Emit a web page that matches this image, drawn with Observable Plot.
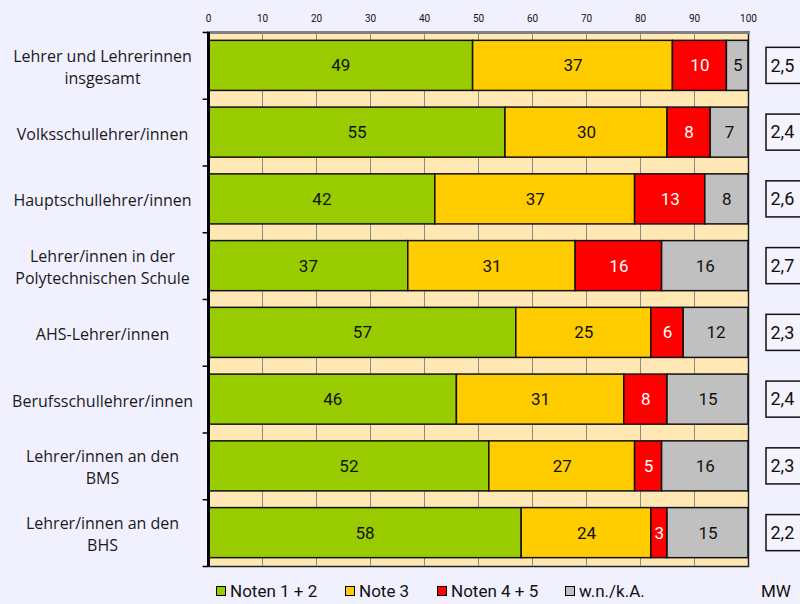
<!DOCTYPE html>
<html><head><meta charset="utf-8">
<script src="https://cdn.jsdelivr.net/npm/d3@7"></script>
<script src="https://cdn.jsdelivr.net/npm/@observablehq/plot@0.6"></script>
<style>
html,body{margin:0;padding:0;background:#F0F0FF;}
#wrap{position:relative;width:800px;height:604px;overflow:hidden;font-family:Roboto,sans-serif;color:#111;}
#chart{position:absolute;left:0;top:0;}
.leg{position:absolute;top:580px;height:22px;font-size:17px;line-height:22px;display:flex;align-items:center;white-space:nowrap;font-family:Roboto,sans-serif;}
.sw{width:8px;height:8px;border:1.5px solid #000;margin-right:4px;display:inline-block;}
</style></head><body>
<div id="wrap"><div id="chart"></div><div id="legend"></div></div>
<script>
const categories = [
  "Lehrer und Lehrerinnen\ninsgesamt",
  "Volksschullehrer/innen",
  "Hauptschullehrer/innen",
  "Lehrer/innen in der\nPolytechnischen Schule",
  "AHS-Lehrer/innen",
  "Berufsschullehrer/innen",
  "Lehrer/innen an den\nBMS",
  "Lehrer/innen an den\nBHS"
];
const noten12 = [49, 55, 42, 37, 57, 46, 52, 58];
const note3   = [37, 30, 37, 31, 25, 31, 27, 24];
const noten45 = [10, 8, 13, 16, 6, 8, 5, 3];
const wnka    = [5, 7, 8, 16, 12, 15, 16, 15];
const mw      = ["2,5", "2,4", "2,6", "2,7", "2,3", "2,4", "2,3", "2,2"];
const seriesNames = ["Noten 1 + 2", "Note 3", "Noten 4 + 5", "w.n./k.A."];
const seriesColors = ["#99CC00", "#FFCC00", "#FF0000", "#C0C0C0"];
const xTicks = [0, 10, 20, 30, 40, 50, 60, 70, 80, 90, 100];

const seriesValues = [noten12, note3, noten45, wnka];
const xMax = 100;
const rows = [];
categories.forEach((cat, i) => {
  let acc = 0;
  seriesNames.forEach((s, j) => {
    const v = seriesValues[j][i];
    const x1 = Math.min(acc, xMax), x2 = Math.min(acc + v, xMax);
    rows.push({cat, series: s, value: v, x1, x2, mid: (x1 + x2) / 2});
    acc += v;
  });
});
const mwRows = categories.map((cat, i) => ({cat, mw: mw[i]}));

const chart = Plot.plot({
  width: 800, height: 570,
  marginLeft: 208, marginRight: 52, marginTop: 32, marginBottom: 4,
  style: {background: "transparent", fontFamily: "Roboto", overflow: "visible", color: "#111"},
  x: {domain: [0, xMax]},
  y: {domain: categories, paddingInner: 0.25, paddingOuter: 0.125, round: false},
  color: {domain: seriesNames, range: seriesColors},
  marks: [
    Plot.frame({fill: "#FFE8B4", stroke: "#222", strokeWidth: 1.5}),
    Plot.gridX(xTicks.filter(t => t > 0 && t < xMax), {stroke: "#8a8a8a", strokeOpacity: 1, strokeWidth: 1}),
    Plot.frame({anchor: "top", stroke: "#808080", strokeWidth: 3}),
    Plot.axisX({anchor: "top", ticks: xTicks, tickSize: 0, tickPadding: 11, fontSize: 10, label: null}),
    Plot.axisY({tickSize: 0, tickPadding: 0, textAnchor: "middle", dx: -106, fontSize: 16,
      fontFamily: "Open Sans", fill: "#1a1a1a", lineHeight: 1.38, label: null}),
    Plot.barX(rows, {x1: "x1", x2: "x2", y: "cat", fill: "series", stroke: "#111", strokeWidth: 1.5}),
    Plot.text(rows, {x: "mid", y: "cat", text: d => String(d.value), fontSize: 17,
      fill: d => d.series === "Noten 4 + 5" ? "#fff" : "#111"}),
    Plot.ruleX([0], {stroke: "#000", strokeWidth: 3}),
    Plot.ruleY(categories, {y: d => d, x1: -1, x2: 0, dy: -33.4, stroke: "#000", strokeWidth: 1.5}),
    Plot.ruleY(categories.slice(-1), {y: d => d, x1: -1, x2: 0, dy: 33.4, stroke: "#000", strokeWidth: 1.5}),
    Plot.barX(mwRows, {x1: () => xMax, x2: () => xMax, y: "cat", insetLeft: 18, insetRight: -70,
      insetTop: 7, insetBottom: 7, fill: "#F4F4FF", stroke: "#111", strokeWidth: 1.5}),
    Plot.text(mwRows, {x: () => xMax, y: "cat", text: "mw", dx: 22, textAnchor: "start", fontSize: 18})
  ]
});
document.getElementById("chart").appendChild(chart);

const legendPos = [216, 345, 437, 565];
const legend = document.getElementById("legend");
seriesNames.forEach((s, j) => {
  const el = document.createElement("div");
  el.className = "leg";
  el.style.left = legendPos[j] + "px";
  el.innerHTML = `<span class="sw" style="background:${seriesColors[j]}"></span>${s}`;
  legend.appendChild(el);
});
const mwEl = document.createElement("div");
mwEl.className = "leg";
mwEl.style.left = "761px";
mwEl.textContent = "MW";
legend.appendChild(mwEl);
</script>
</body></html>
